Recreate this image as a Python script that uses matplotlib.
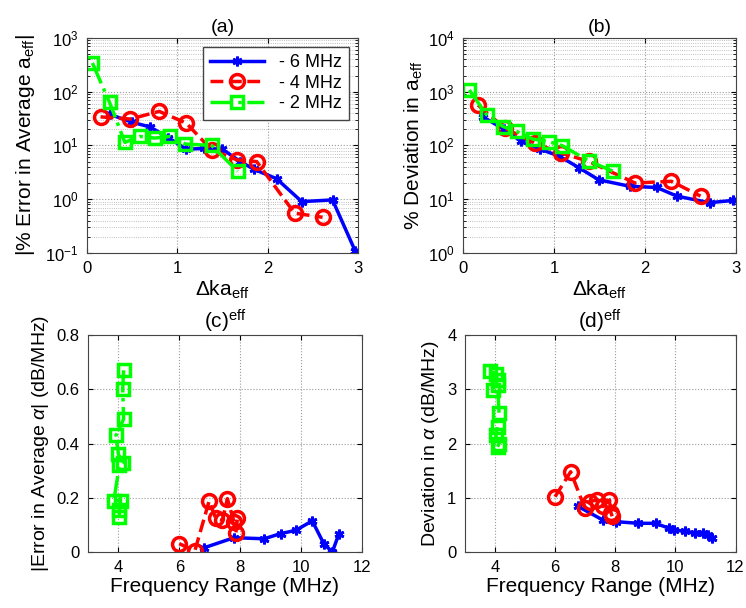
import matplotlib
matplotlib.use("Agg")
import matplotlib.pyplot as plt
from matplotlib.ticker import FuncFormatter, LogLocator

plt.rcParams['font.family'] = ['Liberation Sans', 'DejaVu Sans']
plt.rcParams['mathtext.fontset'] = 'custom'
plt.rcParams['mathtext.rm'] = 'Liberation Sans'
plt.rcParams['mathtext.it'] = 'Liberation Sans:italic'

labels = ['- 6 MHz', '- 4 MHz', '- 2 MHz']

# (a) |% error in average a_eff| vs delta ka_eff
a6_x = [0.25, 0.5, 0.7, 0.9, 1.1, 1.3, 1.5, 1.7, 1.85, 2.1, 2.38, 2.72, 2.97]
a6_y = [38, 27, 22, 14, 8.5, 8.8, 8.5, 5.0, 3.6, 2.4, 0.9, 0.97, 0.11]
a4_x = [0.15, 0.48, 0.80, 1.10, 1.38, 1.66, 1.88, 2.30, 2.61]
a4_y = [34, 31, 43, 26, 8.3, 5.4, 5.0, 0.55, 0.46]
a2_x = [0.06, 0.25, 0.42, 0.59, 0.75, 0.92, 1.09, 1.38, 1.67]
a2_y = [342, 63, 11.4, 14.7, 13.7, 14.7, 10.6, 10.0, 3.3]

# (b) % deviation in a_eff vs delta ka_eff
b6_x = [0.22, 0.45, 0.64, 0.85, 1.06, 1.28, 1.49, 1.83, 2.13, 2.35, 2.71, 2.97]
b6_y = [340, 200, 119, 85, 63, 38, 23, 17.4, 16.5, 11.4, 8.6, 9.5]
b4_x = [0.165, 0.46, 0.79, 1.08, 1.38, 1.89, 2.29, 2.61]
b4_y = [565, 209, 110, 72, 50.6, 20, 21.5, 11.4]
b2_x = [0.07, 0.26, 0.44, 0.59, 0.77, 0.94, 1.09, 1.39, 1.65]
b2_y = [1075, 371, 225, 182, 131, 118, 99, 50.6, 33]

# (c) |error in average alpha| vs frequency range
c6_x = [6.82, 7.8, 8.79, 9.33, 9.83, 10.37, 10.75, 11.03, 11.25]
c6_y = [0.016, 0.053, 0.049, 0.068, 0.08, 0.115, 0.031, 0.0, 0.068]
c4_x = [6.0, 6.51, 6.98, 7.2, 7.42, 7.58, 7.8, 7.91, 7.86]
c4_y = [0.031, 0.004, 0.188, 0.124, 0.117, 0.197, 0.111, 0.124, 0.07]
c2_x = [4.17, 4.14, 4.17, 3.92, 4.0, 4.14, 4.03, 3.85, 4.09, 4.03, 4.03]
c2_y = [0.67, 0.60, 0.49, 0.43, 0.36, 0.33, 0.32, 0.19, 0.19, 0.155, 0.13]

# (d) deviation in alpha vs frequency range
d6_x = [6.77, 7.59, 8.03, 8.77, 9.34, 9.78, 9.95, 10.33, 10.66, 10.93, 11.1, 11.23]
d6_y = [0.84, 0.59, 0.56, 0.53, 0.53, 0.44, 0.41, 0.38, 0.35, 0.35, 0.32, 0.26]
d4_x = [6.0, 6.52, 6.99, 7.15, 7.40, 7.59, 7.81, 7.86, 7.9]
d4_y = [1.02, 1.48, 0.81, 0.93, 0.96, 0.84, 0.96, 0.72, 0.66]
d2_x = [3.85, 4.03, 4.09, 3.93, 4.09, 4.14, 4.09, 4.03, 4.14, 4.09]
d2_y = [3.33, 3.29, 3.17, 2.98, 3.08, 2.56, 2.31, 2.15, 2.0, 1.94]


def draw(ax, x6, y6, x4, y4, x2, y2):
    l6, = ax.plot(x6, y6, '-', color='#0000FF', lw=2.5, marker=(6, 2, 0), ms=7, mew=2)
    l4, = ax.plot(x4, y4, '--', color='#FF0000', lw=2.5, marker='o', ms=10, mfc='none', mew=2.5)
    l2, = ax.plot(x2, y2, '-.', color='#00FF00', lw=2.5, marker='s', ms=8, mfc='none', mew=2.5)
    return l6, l4, l2


def style(ax):
    ax.tick_params(direction='in', which='both', labelsize=12, top=True, right=True, pad=6)
    ax.grid(True, which='major', ls=':', color='#999999', lw=0.8)
    for s in ax.spines.values():
        s.set_color('#444444')


fig = plt.figure(figsize=(7.46, 6.08), dpi=100)
ax_a = fig.add_axes([0.1166, 0.584, 0.363, 0.3536])
ax_b = fig.add_axes([0.6206, 0.584, 0.366, 0.3536])
ax_c = fig.add_axes([0.118, 0.092, 0.367, 0.357])
ax_d = fig.add_axes([0.623, 0.092, 0.363, 0.357])

lines = draw(ax_a, a6_x, a6_y, a4_x, a4_y, a2_x, a2_y)
draw(ax_b, b6_x, b6_y, b4_x, b4_y, b2_x, b2_y)
draw(ax_c, c6_x, c6_y, c4_x, c4_y, c2_x, c2_y)
draw(ax_d, d6_x, d6_y, d4_x, d4_y, d2_x, d2_y)

for ax, lo, hi in [(ax_a, 1e-1, 1e3), (ax_b, 1e0, 1e4)]:
    ax.set_yscale('log')
    ax.set_ylim(lo, hi)
    ax.set_xlim(0, 3)
    ax.set_xticks([0, 1, 2, 3])
    ax.yaxis.set_major_locator(LogLocator(base=10, numticks=10))
    ax.yaxis.set_minor_locator(LogLocator(base=10, subs=range(2, 10), numticks=20))
    style(ax)
    ax.grid(True, which='minor', ls=':', color='#aaaaaa', lw=0.6)
    ax.set_xlabel(r'$\Delta$ka$_{\mathrm{eff}}$', fontsize=15, labelpad=2)

ax_a.set_ylabel(r'|% Error in Average a$_{\mathrm{eff}}$|', fontsize=15, labelpad=6)
ax_b.set_ylabel(r'% Deviation in a$_{\mathrm{eff}}$', fontsize=15, labelpad=2)
ax_a.set_title('(a)', fontsize=14, pad=4)
ax_b.set_title('(b)', fontsize=14, pad=4)

fmt = FuncFormatter(lambda v, p: ('%g' % round(v, 3)))
for ax, top in [(ax_c, 0.8), (ax_d, 4)]:
    ax.set_xlim(3, 12)
    ax.set_xticks([4, 6, 8, 10, 12])
    ax.set_ylim(0, top)
    ax.yaxis.set_major_formatter(fmt)
    style(ax)
    ax.set_xlabel('Frequency Range (MHz)', fontsize=15, labelpad=1)
ax_c.set_yticks([0, 0.2, 0.4, 0.6, 0.8])
ax_d.set_yticks([0, 1, 2, 3, 4])
ax_c.set_ylabel(r'|Error in Average $\alpha$| (dB/MHz)', fontsize=14, labelpad=4)
ax_d.set_ylabel(r'Deviation in $\alpha$ (dB/MHz)', fontsize=14, labelpad=4)
ax_c.set_title(r'(c)$^{\mathrm{eff}}$', fontsize=15, pad=4)
ax_d.set_title(r'(d)$^{\mathrm{eff}}$', fontsize=15, pad=4)

leg = ax_a.legend(lines, labels, loc='upper right', fontsize=13, handlelength=3,
                  fancybox=False, edgecolor='#444444', framealpha=1,
                  borderaxespad=0.5, labelspacing=0.2)
leg.get_frame().set_linewidth(1.0)

fig.savefig('out.png', dpi=100)
